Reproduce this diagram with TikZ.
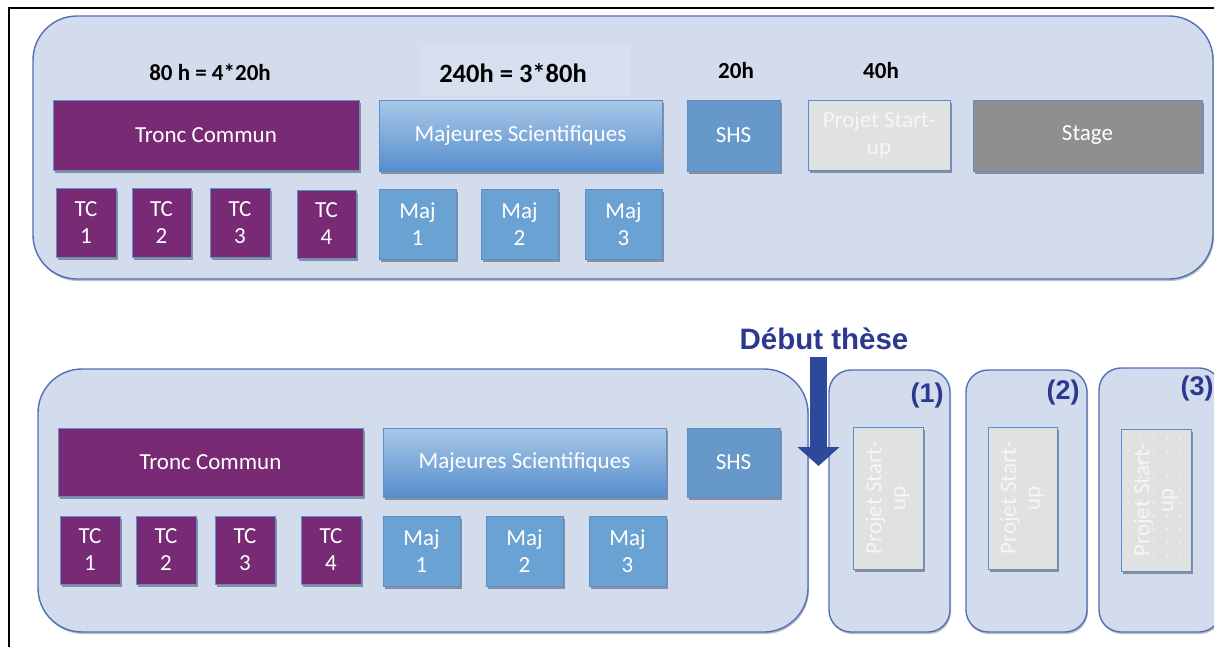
\documentclass[tikz,border=0pt]{standalone}
\usepackage{fontspec}
\newfontfamily\carlito{Carlito}
\newfontfamily\libsans{Liberation Sans}
\usetikzlibrary{shadows,arrows.meta}
\definecolor{panelfill}{RGB}{211,220,237}
\definecolor{panelborder}{RGB}{82,112,182}
\definecolor{tcpurple}{RGB}{121,42,116}
\definecolor{majtop}{RGB}{170,200,233}
\definecolor{majbot}{RGB}{86,142,204}
\definecolor{majsq}{RGB}{106,162,212}
\definecolor{shsc}{RGB}{102,153,201}
\definecolor{psugrey}{RGB}{224,225,225}
\definecolor{psutext}{RGB}{246,246,246}
\definecolor{stagegrey}{RGB}{143,143,143}
\definecolor{boxborder}{RGB}{92,142,202}
\definecolor{navy}{RGB}{43,57,144}
\definecolor{arrowc}{RGB}{46,72,156}
\definecolor{hbg}{RGB}{215,224,239}
\tikzset{
  panel/.style={draw=panelborder, line width=1.4pt, fill=panelfill, rectangle, inner sep=0pt,
    drop shadow={shadow xshift=1pt, shadow yshift=-2pt, opacity=0.25, fill=black}},
  box/.style={draw=boxborder, line width=0.8pt, rectangle, inner sep=0pt, text=white,
    font=\carlito\fontsize{23}{27}\selectfont, align=center,
    drop shadow={shadow xshift=1.5pt, shadow yshift=-2.5pt, opacity=0.35, fill=black}},
  tcbox/.style={box, fill=tcpurple},
  majbig/.style={box, top color=majtop, bottom color=majbot},
  majbox/.style={box, fill=majsq},
  shsbox/.style={box, fill=shsc},
  psubox/.style={box, fill=psugrey, text=psutext},
  stagebox/.style={box, fill=stagegrey},
  hours/.style={font=\carlito\bfseries\fontsize{23}{26}\selectfont, text=black, inner sep=0pt},
  numlab/.style={font=\libsans\bfseries\fontsize{27}{30}\selectfont, text=navy, inner sep=0pt},
  rottext/.style={text=psutext, font=\carlito\fontsize{23}{27}\selectfont, inner sep=0pt},
}
\newcommand{\startuprot}{\rotatebox{90}{\begin{tabular}{@{}c@{}}Projet Start-\\[-3pt]up\end{tabular}}}
\begin{document}
\begin{tikzpicture}[x=1pt,y=-1pt]
\useasboundingbox (0,0) rectangle (1214,646);
\fill[white] (0,0) rectangle (1214,646);
% frame
\draw[line width=2pt] (9,647) -- (9,8) -- (1215,8);

% panels
\node[panel, rounded corners=44pt, minimum width=1180pt, minimum height=263pt] (toppanel) at (623,147.5) {};
\node[panel, rounded corners=44pt, minimum width=770pt, minimum height=263pt] (botpanel) at (423,500.5) {};
\node[panel, rounded corners=22pt, minimum width=121pt, minimum height=262pt] (p1) at (889.5,501) {};
\node[panel, rounded corners=22pt, minimum width=121pt, minimum height=262pt] (p2) at (1026.5,501) {};
\node[panel, rounded corners=22pt, minimum width=122pt, minimum height=264pt] (p3) at (1160,500) {};

% top labels
\fill[hbg] (420,45) rectangle (630,96);
\node[hours] (h80) at (210,72) {80 h = 4*20h};
\node[hours, font=\carlito\bfseries\fontsize{26.5}{29}\selectfont] (h240) at (513,73) {240h = 3*80h};
\node[hours] (h20) at (736,71) {20h};
\node[hours] (h40) at (881,71) {40h};

% top row
\node[tcbox, minimum width=306pt, minimum height=70pt] (tcA) at (206,135) {Tronc Commun};
\node[tcbox, minimum width=60pt, minimum height=69pt] (tcA1) at (86,222.5) {TC\\1};
\node[tcbox, minimum width=59pt, minimum height=69pt] (tcA2) at (161.5,222.5) {TC\\2};
\node[tcbox, minimum width=60pt, minimum height=69pt] (tcA3) at (240,222.5) {TC\\3};
\node[tcbox, minimum width=59pt, minimum height=68pt] (tcA4) at (326.5,224) {TC\\4};
\node[majbig, minimum width=283pt, minimum height=71pt] (majA) at (520.5,135.5) {Majeures Scientifiques};
\node[majbox, minimum width=77pt, minimum height=70pt] (majA1) at (417.5,224) {Maj\\1};
\node[majbox, minimum width=77pt, minimum height=70pt] (majA2) at (519.5,224) {Maj\\2};
\node[majbox, minimum width=77pt, minimum height=70pt] (majA3) at (623.5,224) {Maj\\3};
\node[shsbox, minimum width=93pt, minimum height=71pt] (shsA) at (733.5,135.5) {SHS};
\node[psubox, minimum width=142pt, minimum height=70pt] (psuA) at (879,135) {Projet Start-\\up};
\node[stagebox, minimum width=229pt, minimum height=71pt] (stageA) at (1087.5,135.5) {Stage};

% bottom row
\node[tcbox, minimum width=305pt, minimum height=68pt] (tcB) at (210.5,462) {Tronc Commun};
\node[tcbox, minimum width=60pt, minimum height=68pt] (tcB1) at (90,550) {TC\\1};
\node[tcbox, minimum width=60pt, minimum height=68pt] (tcB2) at (166,550) {TC\\2};
\node[tcbox, minimum width=60pt, minimum height=68pt] (tcB3) at (245,550) {TC\\3};
\node[tcbox, minimum width=60pt, minimum height=68pt] (tcB4) at (331,550) {TC\\4};
\node[majbig, minimum width=283pt, minimum height=69pt] (majB) at (524.5,462.5) {Majeures Scientifiques};
\node[majbox, minimum width=77pt, minimum height=70pt] (majB1) at (421.5,551) {Maj\\1};
\node[majbox, minimum width=77pt, minimum height=70pt] (majB2) at (524.5,551) {Maj\\2};
\node[majbox, minimum width=77pt, minimum height=70pt] (majB3) at (627.5,551) {Maj\\3};
\node[shsbox, minimum width=93pt, minimum height=69pt] (shsB) at (733.5,462.5) {SHS};

% rotated start-up boxes
\node[psubox, minimum width=70pt, minimum height=142pt] (psu1) at (888,498) {};
\node[psubox, minimum width=69pt, minimum height=142pt] (psu2) at (1022.5,498) {};
\node[psubox, minimum width=70pt, minimum height=142pt] (psu3) at (1156,500) {};
\foreach \yy in {438,451,...,566} {
  \foreach \xx in {1128,1141,...,1188} {
    \fill[white] (\xx,\yy) circle (0.8pt);
  }
}
\node[rottext] (psu1t) at (psu1.center) {\startuprot};
\node[rottext] (psu2t) at (psu2.center) {\startuprot};
\node[rottext] (psu3t) at (psu3.center) {\startuprot};

% numbers
\node[numlab] (n1) at (927,396) {(1)};
\node[numlab] (n2) at (1063,393) {(2)};
\node[numlab] (n3) at (1197,389) {(3)};

% Debut these
\node[font=\libsans\bfseries\fontsize{29.5}{31}\selectfont, text=navy, inner sep=0pt] (debut) at (824,339) {Début thèse};
\coordinate (arrowtop) at (818.5,357);
\coordinate (arrowtip) at (818.5,466);
\draw[arrowc, line width=17pt, -{Triangle[width=41pt,length=19pt]}] (arrowtop) -- (arrowtip);
\end{tikzpicture}
\end{document}
